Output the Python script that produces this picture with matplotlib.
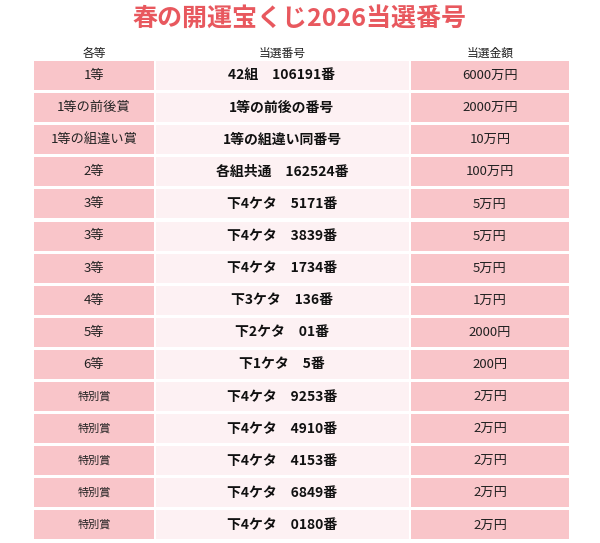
import matplotlib
matplotlib.use("Agg")
import matplotlib.pyplot as plt
from matplotlib.patches import Rectangle

plt.rcParams['font.family'] = ['Noto Sans CJK JP', 'DejaVu Sans']

title = "春の開運宝くじ2026当選番号"
headers = ["各等", "当選番号", "当選金額"]
grades = ["1等", "1等の前後賞", "1等の組違い賞", "2等", "3等", "3等", "3等", "4等", "5等", "6等",
          "特別賞", "特別賞", "特別賞", "特別賞", "特別賞"]
numbers = ["42組　106191番", "1等の前後の番号", "1等の組違い同番号", "各組共通　162524番",
           "下4ケタ　5171番", "下4ケタ　3839番", "下4ケタ　1734番", "下3ケタ　136番",
           "下2ケタ　01番", "下1ケタ　5番", "下4ケタ　9253番", "下4ケタ　4910番",
           "下4ケタ　4153番", "下4ケタ　6849番", "下4ケタ　0180番"]
prizes = ["6000万円", "2000万円", "10万円", "100万円", "5万円", "5万円", "5万円", "1万円",
          "2000円", "200円", "2万円", "2万円", "2万円", "2万円", "2万円"]

fig = plt.figure(figsize=(6, 5.43), dpi=100)
ax = fig.add_axes([0, 0, 1, 1])
ax.set_xlim(0, 600)
ax.set_ylim(543, 0)
ax.axis('off')

cols = [(34, 154), (156, 409), (411, 569)]
colors = ["#f9c5c9", "#fdf1f3", "#f9c5c9"]
ax.text(300, 19, title, ha='center', va='center', fontsize=18, fontweight='bold', color='#e8585e')
for (x0, x1), h in zip(cols, headers):
    ax.text((x0 + x1) / 2, 53, h, ha='center', va='center', fontsize=8.5, color='#222222')

top, step, hgt = 61, 32.1, 29
for i, (g, n, p) in enumerate(zip(grades, numbers, prizes)):
    y0 = top + i * step
    for (x0, x1), c in zip(cols, colors):
        ax.add_patch(Rectangle((x0, y0), x1 - x0, hgt, facecolor=c, edgecolor='none'))
    yc = y0 + hgt / 2
    gsize = 8 if g == "特別賞" else 9.5
    ax.text(94, yc, g, ha='center', va='center', fontsize=gsize, color='#222222')
    ax.text(282, yc, n, ha='center', va='center', fontsize=10, fontweight='bold', color='#111111')
    ax.text(490, yc, p, ha='center', va='center', fontsize=9.5, color='#222222')

fig.savefig("out.png", dpi=100)
